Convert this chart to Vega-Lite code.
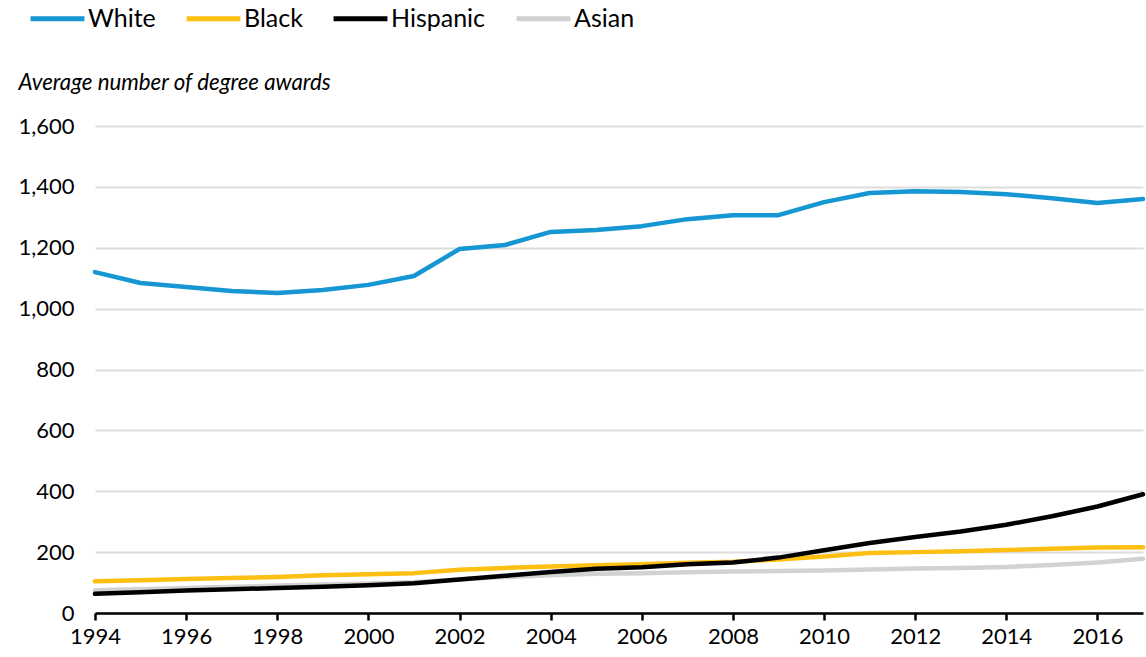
{
  "$schema": "https://vega.github.io/schema/vega-lite/v6.json",
  "width": 1048,
  "height": 487,
  "autosize": {"type": "none"},
  "padding": {"left": 95, "top": 126, "right": 3, "bottom": 44},
  "background": "white",
  "config": {
    "font": "Lato",
    "view": {"stroke": null}
  },
  "data": {
    "values": [
      {"year": 1994, "White": 1120, "Black": 104, "Hispanic": 63, "Asian": 75},
      {"year": 1995, "White": 1084, "Black": 108, "Hispanic": 68, "Asian": 78},
      {"year": 1996, "White": 1071, "Black": 112, "Hispanic": 74, "Asian": 82},
      {"year": 1997, "White": 1058, "Black": 115, "Hispanic": 78, "Asian": 86},
      {"year": 1998, "White": 1051, "Black": 118, "Hispanic": 82, "Asian": 90},
      {"year": 1999, "White": 1061, "Black": 124, "Hispanic": 86, "Asian": 94},
      {"year": 2000, "White": 1078, "Black": 127, "Hispanic": 91, "Asian": 97},
      {"year": 2001, "White": 1107, "Black": 131, "Hispanic": 98, "Asian": 101},
      {"year": 2002, "White": 1196, "Black": 142, "Hispanic": 110, "Asian": 111},
      {"year": 2003, "White": 1209, "Black": 148, "Hispanic": 122, "Asian": 118},
      {"year": 2004, "White": 1252, "Black": 153, "Hispanic": 135, "Asian": 124},
      {"year": 2005, "White": 1258, "Black": 157, "Hispanic": 145, "Asian": 129},
      {"year": 2006, "White": 1271, "Black": 160, "Hispanic": 150, "Asian": 131},
      {"year": 2007, "White": 1294, "Black": 165, "Hispanic": 160, "Asian": 134},
      {"year": 2008, "White": 1307, "Black": 168, "Hispanic": 166, "Asian": 136},
      {"year": 2009, "White": 1307, "Black": 176, "Hispanic": 182, "Asian": 138},
      {"year": 2010, "White": 1350, "Black": 186, "Hispanic": 206, "Asian": 140},
      {"year": 2011, "White": 1380, "Black": 197, "Hispanic": 230, "Asian": 143},
      {"year": 2012, "White": 1386, "Black": 200, "Hispanic": 250, "Asian": 146},
      {"year": 2013, "White": 1383, "Black": 203, "Hispanic": 268, "Asian": 148},
      {"year": 2014, "White": 1376, "Black": 207, "Hispanic": 290, "Asian": 151},
      {"year": 2015, "White": 1363, "Black": 211, "Hispanic": 318, "Asian": 158},
      {"year": 2016, "White": 1347, "Black": 215, "Hispanic": 350, "Asian": 166},
      {"year": 2017, "White": 1360, "Black": 216, "Hispanic": 390, "Asian": 178}
    ]
  },
  "transform": [
    {"fold": ["Asian", "White", "Black", "Hispanic"], "as": ["group", "value"]}
  ],
  "mark": {"type": "line", "strokeWidth": 4.5, "strokeCap": "round", "strokeJoin": "round"},
  "encoding": {
    "x": {
      "field": "year",
      "type": "quantitative",
      "scale": {"domain": [1994, 2017], "nice": false, "zero": false},
      "axis": {
        "title": null,
        "values": [1994, 1996, 1998, 2000, 2002, 2004, 2006, 2008, 2010, 2012, 2014, 2016],
        "format": "d",
        "grid": false,
        "domainColor": "black",
        "domainWidth": 2.5,
        "tickColor": "black",
        "tickWidth": 2.5,
        "tickSize": 7,
        "labelFont": "Lato",
        "labelFontSize": 22,
        "labelColor": "black",
        "labelPadding": 6,
        "labelFlush": false
      }
    },
    "y": {
      "field": "value",
      "type": "quantitative",
      "scale": {"domain": [0, 1600], "nice": false},
      "axis": {
        "title": "Average number of degree awards",
        "titleAngle": 0,
        "titleX": -77,
        "titleY": -44,
        "titleAlign": "left",
        "titleBaseline": "middle",
        "titleFont": "Lato",
        "titleFontSize": 22.3,
        "titleFontStyle": "italic",
        "titleFontWeight": "normal",
        "titleColor": "black",
        "values": [0, 200, 400, 600, 800, 1000, 1200, 1400, 1600],
        "format": ",d",
        "domain": false,
        "ticks": false,
        "grid": true,
        "gridColor": "#dedddd",
        "gridWidth": 2,
        "labelFont": "Lato",
        "labelFontSize": 22,
        "labelColor": "black",
        "labelPadding": 21
      }
    },
    "color": {
      "field": "group",
      "type": "nominal",
      "scale": {
        "domain": ["White", "Black", "Hispanic", "Asian"],
        "range": ["#1696d2", "#fdbf11", "#000000", "#d2d2d2"]
      },
      "legend": {
        "title": null,
        "orient": "none",
        "legendX": -67,
        "legendY": -137,
        "direction": "horizontal",
        "symbolType": "stroke",
        "symbolSize": 2900,
        "symbolStrokeWidth": 5,
        "labelFont": "Lato",
        "labelFontSize": 25,
        "labelColor": "black",
        "labelOffset": 1,
        "columnPadding": 20
      }
    }
  }
}
